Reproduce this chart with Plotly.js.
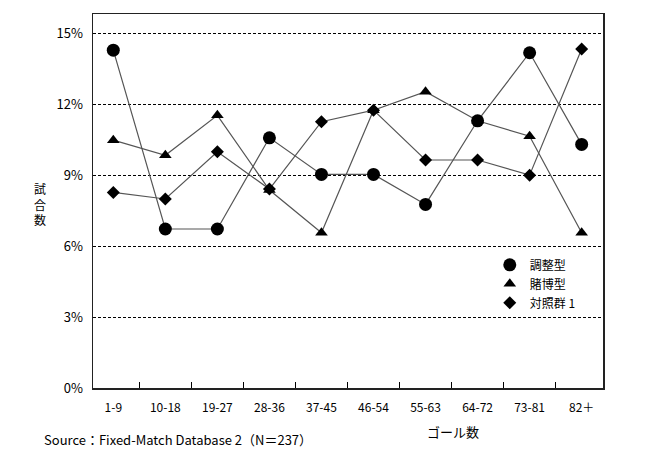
<!DOCTYPE html>
<html>
<head>
<meta charset="utf-8">
<script src="https://cdn.plot.ly/plotly-3.0.1.min.js"></script>
<style>html,body{margin:0;padding:0;background:#fff}#chart{width:650px;height:450px}</style>
</head>
<body>
<div id="chart"></div>
<script>
const categories = ["1-9","10-18","19-27","28-36","37-45","46-54","55-63","64-72","73-81","82＋"];
const chouseigata = [14.30, 6.73, 6.73, 10.59, 9.04, 9.04, 7.77, 11.31, 14.19, 10.31];
const tobakugata  = [10.49, 9.85, 11.54, 8.38, 6.57, 11.76, 12.54, 11.31, 10.66, 6.57];
const taishou1    = [8.28, 8.00, 10.00, 8.42, 11.27, 11.76, 9.65, 9.65, 9.01, 14.35];
const seriesNames = ["調整型", "賭博型", "対照群 1"];
const yTickVals = [0, 3, 6, 9, 12, 15];
const yTickText = ["0%", "3%", "6%", "9%", "12%", "15%"];

const FONT = "Noto Sans CJK JP, sans-serif";
const series = [
  {name: seriesNames[1], y: tobakugata, symbol: "triangle-up", size: 11, rank: 2},
  {name: seriesNames[2], y: taishou1, symbol: "diamond", size: 10, rank: 3},
  {name: seriesNames[0], y: chouseigata, symbol: "circle", size: 13, rank: 1}
];
const traces = [];
series.forEach(s => traces.push({
  x: categories, y: s.y, type: "scatter", mode: "lines",
  line: {color: "#555", width: 1.2}, showlegend: false, hoverinfo: "skip"
}));
series.forEach(s => traces.push({
  x: categories, y: s.y, type: "scatter", mode: "markers", name: s.name,
  legendrank: s.rank,
  marker: {symbol: s.symbol, size: s.size, color: "#000"}
}));

const layout = {
  width: 650, height: 450,
  margin: {l: 93, r: 47, t: 14, b: 62},
  paper_bgcolor: "#fff", plot_bgcolor: "#fff",
  font: {family: FONT, size: 12, color: "#000"},
  showlegend: true,
  legend: {x: 0.778, y: 0.368, xanchor: "left", yanchor: "top",
           bgcolor: "rgba(0,0,0,0)", font: {family: FONT, size: 12},
           itemwidth: 30, tracegroupgap: 0},
  xaxis: {
    type: "category", range: [-0.39, 9.41],
    tickson: "boundaries", ticks: "inside", ticklen: 6, tickcolor: "#000",
    showline: true, linecolor: "#222", linewidth: 1.5, mirror: true,
    showgrid: false, zeroline: false, fixedrange: true,
    tickfont: {family: FONT, size: 12}, ticklabelstandoff: 8
  },
  yaxis: {
    range: [0, 15.83], tickmode: "array", tickvals: yTickVals, ticktext: yTickText,
    ticks: "", showline: true, linecolor: "#222", linewidth: 1.5, mirror: true,
    showgrid: true, gridcolor: "#000", gridwidth: 1, griddash: "3px,2px",
    zeroline: false, tickfont: {family: FONT, size: 13}, ticklabelstandoff: 6
  },
  annotations: [
    {text: "試<br>合<br>数", xref: "paper", yref: "paper", x: -0.103, y: 0.493,
     xanchor: "center", yanchor: "middle", showarrow: false,
     font: {family: FONT, size: 12}},
    {text: "ゴール数", xref: "paper", yref: "paper", x: 0.705, y: -0.115,
     xanchor: "center", yanchor: "middle", showarrow: false,
     font: {family: FONT, size: 13}},
    {text: "Source：Fixed-Match Database 2（N＝237）", xref: "paper", yref: "paper",
     x: -0.1, y: -0.137, xanchor: "left", yanchor: "middle", showarrow: false,
     font: {family: FONT, size: 13}}
  ]
};
Plotly.newPlot("chart", traces, layout, {displayModeBar: false, staticPlot: true});
</script>
</body>
</html>
